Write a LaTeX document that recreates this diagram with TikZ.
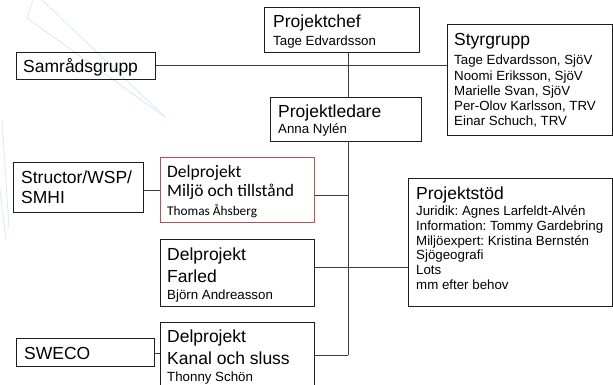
\documentclass[tikz,border=0pt]{standalone}
\usepackage{fontspec}
\setmainfont{Liberation Sans}
\newfontfamily\calfont{Carlito}
\newcommand\fT{\fontsize{17.5}{20}\selectfont}
\newcommand\fS{\fontsize{13.3}{15}\selectfont}
\newcommand\lineat[2]{\baselineskip=#1pt\hbox{#2}}
\definecolor{boxline}{RGB}{30,30,30}
\definecolor{conn}{RGB}{60,60,60}
\definecolor{redline}{RGB}{195,75,75}
\definecolor{faint}{RGB}{215,235,245}
\frenchspacing
\begin{document}
\begin{tikzpicture}[x=1pt,y=-1pt,
  box/.style={draw=boxline,line width=0.9pt,rectangle,inner sep=0pt,anchor=north west},
  redbox/.style={box,draw=redline,line width=1.4pt},
  txt/.style={anchor=base west,inner sep=0pt,text=black},
  conn/.style={draw=conn,line width=0.9pt}]
\useasboundingbox (0,0) rectangle (613,385);
\fill[white] (0,0) rectangle (613,385);
% faint background decoration
\draw[faint,line width=0.8pt] (33,0) -- (27,18) -- (165,117);
\draw[faint,line width=0.8pt] (42,0) -- (165,117);
\draw[faint,line width=0.8pt] (2,120) -- (9,228);
\draw[faint,line width=0.8pt] (0,190) -- (6,240);
% boxes
\node[box,minimum width=155pt,minimum height=45pt] (chef) at (264,7) {};
\node[box,minimum width=139pt,minimum height=27pt] (samrad) at (16,52) {};
\node[box,minimum width=165pt,minimum height=111pt] (styr) at (447,24) {};
\node[box,minimum width=151pt,minimum height=44pt] (ledare) at (270,97) {};
\node[redbox,minimum width=154pt,minimum height=65pt] (miljo) at (160,157) {};
\node[box,minimum width=130pt,minimum height=50pt] (structor) at (13,162) {};
\node[box,minimum width=154pt,minimum height=67pt] (farled) at (160,239) {};
\node[box,minimum width=204pt,minimum height=128pt] (stod) at (408,178) {};
\node[box,minimum width=154pt,minimum height=80pt] (kanal) at (160,322) {};
\node[box,minimum width=138pt,minimum height=28pt] (sweco) at (16,338) {};
% texts
\node[txt] (chef-t) at (273,28) {\vtop{\hbox{\fT Projektchef}\lineat{18}{\fS Tage Edvardsson}}};
\node[txt] (samrad-t) at (23,73) {\fT Samrådsgrupp};
\node[txt] (styr-t) at (454,46) {\vtop{\hbox{\fT Styrgrupp}\lineat{19}{\fS Tage Edvardsson, SjöV}\lineat{15.2}{\fS Noomi Eriksson, SjöV}\lineat{15.2}{\fS Marielle Svan, SjöV}\lineat{15.2}{\fS Per-Olov Karlsson, TRV}\lineat{15.2}{\fS Einar Schuch, TRV}}};
\node[txt] (ledare-t) at (278,118) {\vtop{\hbox{\fT Projektledare}\lineat{16}{\fS Anna Nylén}}};
\node[txt] (structor-t) at (21,183) {\vtop{\hbox{\fT Structor/WSP/}\lineat{20}{\fT SMHI}}};
\node[txt] (miljo-t) at (167,177) {\calfont\vtop{\hbox{\fT Delprojekt}\lineat{20}{\fT Miljö och tillstånd}\lineat{18}{\fS Thomas Åhsberg}}};
\node[txt] (farled-t) at (167,260) {\vtop{\hbox{\fT Delprojekt}\lineat{22}{\fT Farled}\lineat{17}{\fS Björn Andreasson}}};
\node[txt] (stod-t) at (416,199) {\vtop{\hbox{\fT Projektstöd}\lineat{16.5}{\fS Juridik: Agnes Larfeldt-Alvén}\lineat{14.8}{\fS Information: Tommy Gardebring}\lineat{14.8}{\fS Miljöexpert: Kristina Bernstén}\lineat{14.8}{\fS Sjögeografi}\lineat{14.8}{\fS Lots}\lineat{14.8}{\fS mm efter behov}}};
\node[txt] (kanal-t) at (167,342) {\vtop{\hbox{\fT Delprojekt}\lineat{22}{\fT Kanal och sluss}\lineat{17}{\fS Thonny Schön}}};
\node[txt] (sweco-t) at (24,359) {\fT SWECO};
% connectors
\coordinate (trunkend) at (348,355);
\draw[conn] (chef.south -| trunkend) -- (ledare.north -| trunkend);
\draw[conn] (ledare.south -| trunkend) -- (trunkend);
\draw[conn] (samrad.east) -- (samrad.east -| styr.west);
\draw[conn] (miljo.east |- 0,195) -- (trunkend |- 0,195);
\draw[conn] (farled.east |- 0,267) -- (stod.west |- 0,267);
\draw[conn] (kanal.east |- trunkend) -- (trunkend);
\draw[conn] (structor.east |- 0,190) -- (miljo.west |- 0,190);
\draw[conn] (sweco.east |- 0,353) -- (kanal.west |- 0,353);
\end{tikzpicture}
\end{document}
